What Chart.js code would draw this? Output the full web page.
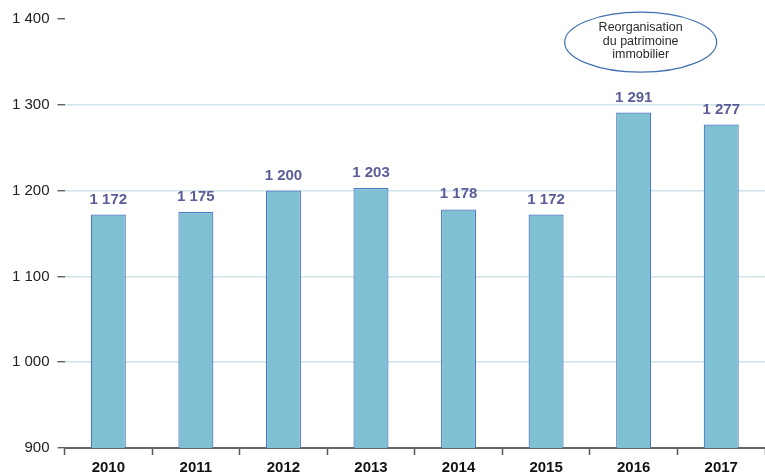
<!DOCTYPE html>
<html><head><meta charset="utf-8">
<script src="https://cdn.jsdelivr.net/npm/chart.js@4/dist/chart.umd.min.js"></script>
<style>html,body{margin:0;padding:0;background:#fff}#wrap{width:765px;height:476px}</style>
</head><body><div id="wrap"><canvas id="c" width="765" height="476"></canvas></div>
<script>
const categories = ['2010','2011','2012','2013','2014','2015','2016','2017'];
const values = [1172, 1175, 1200, 1203, 1178, 1172, 1291, 1277];
const yTicks = [900, 1000, 1100, 1200, 1300, 1400];
const noteLines = ['Reorganisation', 'du patrimoine', 'immobilier'];
const noteCategoryIndex = 6;
const noteValue = 1373;

function fmt(v){ return String(v).replace(/\B(?=(\d{3})+(?!\d))/g, ' '); }

const labelsPlugin = {
  id: 'vlabels',
  afterDatasetsDraw(chart){
    const ctx = chart.ctx;
    const meta = chart.getDatasetMeta(0);
    ctx.save();
    ctx.font = 'bold 15px "Liberation Sans", Arial, sans-serif';
    ctx.fillStyle = '#5a5d98';
    ctx.textAlign = 'center';
    ctx.textBaseline = 'alphabetic';
    meta.data.forEach((bar, i) => {
      ctx.fillText(fmt(values[i]), bar.x, bar.y - 11);
    });
    // annotation ellipse
    const xs = chart.scales.x, ys = chart.scales.y;
    const cx = xs.getPixelForValue(noteCategoryIndex) + 7;
    const cy = ys.getPixelForValue(noteValue);
    ctx.beginPath();
    ctx.ellipse(cx, cy, 76, 30, 0, 0, Math.PI*2);
    ctx.fillStyle = '#ffffff';
    ctx.fill();
    ctx.lineWidth = 1.2;
    ctx.strokeStyle = '#3f6fb0';
    ctx.stroke();
    ctx.fillStyle = '#2a2a2a';
    ctx.font = '12.5px "Liberation Sans", Arial, sans-serif';
    ctx.textBaseline = 'middle';
    noteLines.forEach((t, k) => ctx.fillText(t, cx, cy + (k - 1) * 13.5 - 1));
    ctx.restore();
  }
};

new Chart(document.getElementById('c'), {
  type: 'bar',
  data: { labels: categories, datasets: [{
    data: values,
    backgroundColor: '#7fc0d3',
    borderColor: '#4a78c2',
    borderWidth: 1.2,
    borderSkipped: false,
    categoryPercentage: 1,
    barPercentage: 0.4
  }]},
  options: {
    responsive: false,
    animation: false,
    layout: { padding: { top: 19, right: 0, left: 4, bottom: -4 } },
    plugins: { legend: { display: false }, tooltip: { enabled: false } },
    scales: {
      x: {
        grid: { offset: true, drawOnChartArea: false, tickLength: 7, tickColor: '#555', tickWidth: 1.5 },
        border: { color: '#666', width: 2 },
        ticks: { color: '#111', font: { size: 15, weight: 'bold', lineHeight: 1, family: '"Liberation Sans", Arial, sans-serif' }, padding: 5 }
      },
      y: {
        min: 900, max: 1400,
        afterBuildTicks(axis){ axis.ticks = yTicks.map(v => ({ value: v })); },
        grid: {
          color: (c) => (c.tick && (c.tick.value === 1400 || c.tick.value === 900)) ? 'rgba(0,0,0,0)' : '#cfe3ea',
          lineWidth: 1.5,
          tickLength: 7,
          tickColor: '#444',
          tickWidth: 1.2
        },
        border: { display: false },
        ticks: { color: '#222', font: { size: 15, family: '"Liberation Sans", Arial, sans-serif' }, padding: 8, callback: (v) => fmt(v) }
      }
    }
  },
  plugins: [labelsPlugin]
});
</script></body></html>
